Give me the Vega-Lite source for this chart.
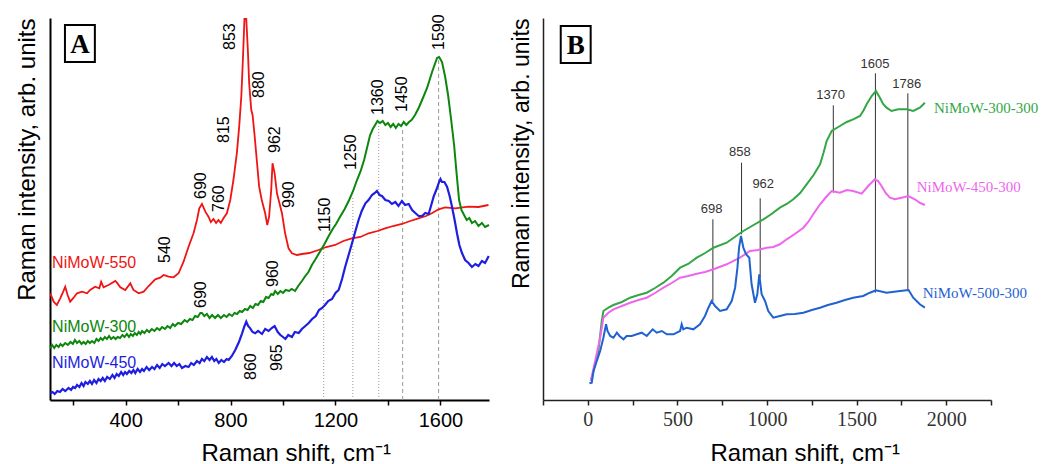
{
  "$schema": "https://vega.github.io/schema/vega-lite/v6.json",
  "autosize": {"type": "pad"},
  "padding": {"left": 14, "top": 14, "right": 0, "bottom": 0},
  "bounds": "flush",
  "spacing": 54,
  "resolve": {"scale": {"color": "independent", "strokeWidth": "independent"}},
  "config": {"view": {"stroke": null}, "background": "white"},
  "hconcat": [
    {
      "width": 439,
      "height": 382,
      "layer": [
        {
          "data": {"values": [
            {"x": 1155, "y": 0, "y2": 153, "d": "dot"},
            {"x": 1266, "y": 0, "y2": 203, "d": "dot"},
            {"x": 1365, "y": 0, "y2": 277, "d": "dot"},
            {"x": 1456, "y": 0, "y2": 270, "d": "dash"},
            {"x": 1593, "y": 0, "y2": 343, "d": "dash"}
          ]},
          "mark": {"type": "rule", "color": "#999999", "strokeWidth": 1},
          "encoding": {
            "x": {"field": "x", "type": "quantitative"},
            "y": {"field": "y", "type": "quantitative"},
            "y2": {"field": "y2"},
            "strokeDash": {"field": "d", "type": "nominal", "scale": {"domain": ["dot", "dash"], "range": [[1, 2], [4, 3]]}, "legend": null}
          }
        },
        {
          "data": {"values": [
            {"s": "NiMoW-550", "x": 113, "y": 106.7}, {"s": "NiMoW-550", "x": 126, "y": 98.3}, {"s": "NiMoW-550", "x": 138, "y": 95}, {"s": "NiMoW-550", "x": 151, "y": 101.7}, {"s": "NiMoW-550", "x": 164, "y": 109.3}, {"s": "NiMoW-550", "x": 170, "y": 113.3}, {"s": "NiMoW-550", "x": 179, "y": 105}, {"s": "NiMoW-550", "x": 189, "y": 98.3}, {"s": "NiMoW-550", "x": 202, "y": 102.3}, {"s": "NiMoW-550", "x": 215, "y": 106.7}, {"s": "NiMoW-550", "x": 234, "y": 108.3}, {"s": "NiMoW-550", "x": 253, "y": 106.7}, {"s": "NiMoW-550", "x": 265, "y": 110}, {"s": "NiMoW-550", "x": 284, "y": 113.3}, {"s": "NiMoW-550", "x": 300, "y": 111.7}, {"s": "NiMoW-550", "x": 307, "y": 118.3}, {"s": "NiMoW-550", "x": 316, "y": 112.7}, {"s": "NiMoW-550", "x": 335, "y": 115}, {"s": "NiMoW-550", "x": 361, "y": 119}, {"s": "NiMoW-550", "x": 367, "y": 117.3}, {"s": "NiMoW-550", "x": 380, "y": 112.7}, {"s": "NiMoW-550", "x": 399, "y": 110}, {"s": "NiMoW-550", "x": 418, "y": 116.7}, {"s": "NiMoW-550", "x": 430, "y": 110}, {"s": "NiMoW-550", "x": 450, "y": 106.7}, {"s": "NiMoW-550", "x": 469, "y": 108.3}, {"s": "NiMoW-550", "x": 488, "y": 114}, {"s": "NiMoW-550", "x": 513, "y": 120.7}, {"s": "NiMoW-550", "x": 532, "y": 122.3}, {"s": "NiMoW-550", "x": 545, "y": 125}, {"s": "NiMoW-550", "x": 564, "y": 123.3}, {"s": "NiMoW-550", "x": 583, "y": 122.7}, {"s": "NiMoW-550", "x": 602, "y": 126.7}, {"s": "NiMoW-550", "x": 621, "y": 138.3}, {"s": "NiMoW-550", "x": 640, "y": 153.3}, {"s": "NiMoW-550", "x": 659, "y": 166.7}, {"s": "NiMoW-550", "x": 672, "y": 180}, {"s": "NiMoW-550", "x": 681, "y": 191.7}, {"s": "NiMoW-550", "x": 691, "y": 196}, {"s": "NiMoW-550", "x": 704, "y": 188.3}, {"s": "NiMoW-550", "x": 716, "y": 183.3}, {"s": "NiMoW-550", "x": 725, "y": 178}, {"s": "NiMoW-550", "x": 735, "y": 181}, {"s": "NiMoW-550", "x": 745, "y": 177}, {"s": "NiMoW-550", "x": 754, "y": 180}, {"s": "NiMoW-550", "x": 763, "y": 177}, {"s": "NiMoW-550", "x": 773, "y": 181.7}, {"s": "NiMoW-550", "x": 786, "y": 186.7}, {"s": "NiMoW-550", "x": 799, "y": 200}, {"s": "NiMoW-550", "x": 811, "y": 220}, {"s": "NiMoW-550", "x": 824, "y": 246.7}, {"s": "NiMoW-550", "x": 833, "y": 273.3}, {"s": "NiMoW-550", "x": 841, "y": 303.3}, {"s": "NiMoW-550", "x": 846, "y": 333.3}, {"s": "NiMoW-550", "x": 850, "y": 360}, {"s": "NiMoW-550", "x": 853, "y": 381}, {"s": "NiMoW-550", "x": 860, "y": 381}, {"s": "NiMoW-550", "x": 866, "y": 350}, {"s": "NiMoW-550", "x": 871, "y": 316.7}, {"s": "NiMoW-550", "x": 879, "y": 290}, {"s": "NiMoW-550", "x": 884, "y": 285}, {"s": "NiMoW-550", "x": 891, "y": 266.7}, {"s": "NiMoW-550", "x": 900, "y": 240}, {"s": "NiMoW-550", "x": 909, "y": 213.3}, {"s": "NiMoW-550", "x": 919, "y": 200}, {"s": "NiMoW-550", "x": 932, "y": 186.7}, {"s": "NiMoW-550", "x": 940, "y": 175}, {"s": "NiMoW-550", "x": 947, "y": 183.3}, {"s": "NiMoW-550", "x": 955, "y": 210}, {"s": "NiMoW-550", "x": 960, "y": 236.7}, {"s": "NiMoW-550", "x": 968, "y": 226.7}, {"s": "NiMoW-550", "x": 977, "y": 206.7}, {"s": "NiMoW-550", "x": 985, "y": 198.3}, {"s": "NiMoW-550", "x": 996, "y": 186.7}, {"s": "NiMoW-550", "x": 1008, "y": 166.7}, {"s": "NiMoW-550", "x": 1021, "y": 151.7}, {"s": "NiMoW-550", "x": 1034, "y": 146.7}, {"s": "NiMoW-550", "x": 1053, "y": 145}, {"s": "NiMoW-550", "x": 1072, "y": 146}, {"s": "NiMoW-550", "x": 1100, "y": 147}, {"s": "NiMoW-550", "x": 1135, "y": 150}, {"s": "NiMoW-550", "x": 1165, "y": 153}, {"s": "NiMoW-550", "x": 1199, "y": 155}, {"s": "NiMoW-550", "x": 1230, "y": 159}, {"s": "NiMoW-550", "x": 1262, "y": 161.7}, {"s": "NiMoW-550", "x": 1295, "y": 163}, {"s": "NiMoW-550", "x": 1326, "y": 166.7}, {"s": "NiMoW-550", "x": 1360, "y": 169}, {"s": "NiMoW-550", "x": 1389, "y": 171.7}, {"s": "NiMoW-550", "x": 1420, "y": 174}, {"s": "NiMoW-550", "x": 1453, "y": 176}, {"s": "NiMoW-550", "x": 1485, "y": 179}, {"s": "NiMoW-550", "x": 1516, "y": 181.7}, {"s": "NiMoW-550", "x": 1545, "y": 184}, {"s": "NiMoW-550", "x": 1567, "y": 186.7}, {"s": "NiMoW-550", "x": 1593, "y": 190.7}, {"s": "NiMoW-550", "x": 1618, "y": 192.7}, {"s": "NiMoW-550", "x": 1656, "y": 191.7}, {"s": "NiMoW-550", "x": 1707, "y": 193.3}, {"s": "NiMoW-550", "x": 1745, "y": 193}, {"s": "NiMoW-550", "x": 1783, "y": 195},

            {"s": "NiMoW-300", "x": 113, "y": 51.7}, {"s": "NiMoW-300", "x": 120, "y": 55}, {"s": "NiMoW-300", "x": 128, "y": 52}, {"s": "NiMoW-300", "x": 136, "y": 55}, {"s": "NiMoW-300", "x": 145, "y": 53}, {"s": "NiMoW-300", "x": 152, "y": 56}, {"s": "NiMoW-300", "x": 160, "y": 54}, {"s": "NiMoW-300", "x": 170, "y": 57}, {"s": "NiMoW-300", "x": 180, "y": 55}, {"s": "NiMoW-300", "x": 190, "y": 58}, {"s": "NiMoW-300", "x": 199, "y": 56}, {"s": "NiMoW-300", "x": 207, "y": 60}, {"s": "NiMoW-300", "x": 215, "y": 57}, {"s": "NiMoW-300", "x": 224, "y": 59}, {"s": "NiMoW-300", "x": 232, "y": 56}, {"s": "NiMoW-300", "x": 240, "y": 58}, {"s": "NiMoW-300", "x": 248, "y": 56}, {"s": "NiMoW-300", "x": 256, "y": 59}, {"s": "NiMoW-300", "x": 264, "y": 57}, {"s": "NiMoW-300", "x": 272, "y": 59}, {"s": "NiMoW-300", "x": 281, "y": 57}, {"s": "NiMoW-300", "x": 289, "y": 61}, {"s": "NiMoW-300", "x": 297, "y": 59}, {"s": "NiMoW-300", "x": 305, "y": 62}, {"s": "NiMoW-300", "x": 313, "y": 60}, {"s": "NiMoW-300", "x": 321, "y": 63}, {"s": "NiMoW-300", "x": 329, "y": 61}, {"s": "NiMoW-300", "x": 337, "y": 64}, {"s": "NiMoW-300", "x": 345, "y": 61}, {"s": "NiMoW-300", "x": 354, "y": 63}, {"s": "NiMoW-300", "x": 362, "y": 61}, {"s": "NiMoW-300", "x": 370, "y": 63}, {"s": "NiMoW-300", "x": 379, "y": 62}, {"s": "NiMoW-300", "x": 388, "y": 65}, {"s": "NiMoW-300", "x": 396, "y": 63}, {"s": "NiMoW-300", "x": 405, "y": 66}, {"s": "NiMoW-300", "x": 413, "y": 63}, {"s": "NiMoW-300", "x": 420, "y": 66}, {"s": "NiMoW-300", "x": 428, "y": 64}, {"s": "NiMoW-300", "x": 435, "y": 67}, {"s": "NiMoW-300", "x": 443, "y": 65}, {"s": "NiMoW-300", "x": 450, "y": 68}, {"s": "NiMoW-300", "x": 457, "y": 66}, {"s": "NiMoW-300", "x": 463, "y": 69}, {"s": "NiMoW-300", "x": 472, "y": 67}, {"s": "NiMoW-300", "x": 481, "y": 70}, {"s": "NiMoW-300", "x": 490, "y": 68}, {"s": "NiMoW-300", "x": 500, "y": 71}, {"s": "NiMoW-300", "x": 510, "y": 69}, {"s": "NiMoW-300", "x": 520, "y": 72}, {"s": "NiMoW-300", "x": 530, "y": 70}, {"s": "NiMoW-300", "x": 539, "y": 73}, {"s": "NiMoW-300", "x": 550, "y": 71}, {"s": "NiMoW-300", "x": 560, "y": 74}, {"s": "NiMoW-300", "x": 570, "y": 72}, {"s": "NiMoW-300", "x": 580, "y": 76}, {"s": "NiMoW-300", "x": 588, "y": 74}, {"s": "NiMoW-300", "x": 600, "y": 77}, {"s": "NiMoW-300", "x": 612, "y": 76}, {"s": "NiMoW-300", "x": 625, "y": 80}, {"s": "NiMoW-300", "x": 635, "y": 78}, {"s": "NiMoW-300", "x": 645, "y": 81}, {"s": "NiMoW-300", "x": 655, "y": 80}, {"s": "NiMoW-300", "x": 665, "y": 84}, {"s": "NiMoW-300", "x": 675, "y": 83}, {"s": "NiMoW-300", "x": 685, "y": 87}, {"s": "NiMoW-300", "x": 691, "y": 87}, {"s": "NiMoW-300", "x": 700, "y": 84}, {"s": "NiMoW-300", "x": 710, "y": 86}, {"s": "NiMoW-300", "x": 720, "y": 82}, {"s": "NiMoW-300", "x": 730, "y": 85}, {"s": "NiMoW-300", "x": 741, "y": 82}, {"s": "NiMoW-300", "x": 752, "y": 85}, {"s": "NiMoW-300", "x": 763, "y": 82}, {"s": "NiMoW-300", "x": 775, "y": 85}, {"s": "NiMoW-300", "x": 785, "y": 83}, {"s": "NiMoW-300", "x": 795, "y": 86}, {"s": "NiMoW-300", "x": 806, "y": 84}, {"s": "NiMoW-300", "x": 815, "y": 87}, {"s": "NiMoW-300", "x": 825, "y": 86}, {"s": "NiMoW-300", "x": 835, "y": 89}, {"s": "NiMoW-300", "x": 844, "y": 88}, {"s": "NiMoW-300", "x": 855, "y": 91}, {"s": "NiMoW-300", "x": 865, "y": 90}, {"s": "NiMoW-300", "x": 875, "y": 94}, {"s": "NiMoW-300", "x": 885, "y": 92}, {"s": "NiMoW-300", "x": 895, "y": 96}, {"s": "NiMoW-300", "x": 905, "y": 95}, {"s": "NiMoW-300", "x": 915, "y": 99}, {"s": "NiMoW-300", "x": 925, "y": 98}, {"s": "NiMoW-300", "x": 935, "y": 103}, {"s": "NiMoW-300", "x": 945, "y": 102}, {"s": "NiMoW-300", "x": 955, "y": 106}, {"s": "NiMoW-300", "x": 963, "y": 105}, {"s": "NiMoW-300", "x": 970, "y": 109}, {"s": "NiMoW-300", "x": 980, "y": 106}, {"s": "NiMoW-300", "x": 990, "y": 109}, {"s": "NiMoW-300", "x": 1000, "y": 107}, {"s": "NiMoW-300", "x": 1010, "y": 110}, {"s": "NiMoW-300", "x": 1023, "y": 109}, {"s": "NiMoW-300", "x": 1033, "y": 111}, {"s": "NiMoW-300", "x": 1046, "y": 109}, {"s": "NiMoW-300", "x": 1058, "y": 114}, {"s": "NiMoW-300", "x": 1072, "y": 119}, {"s": "NiMoW-300", "x": 1085, "y": 124}, {"s": "NiMoW-300", "x": 1097, "y": 128}, {"s": "NiMoW-300", "x": 1110, "y": 135}, {"s": "NiMoW-300", "x": 1122, "y": 140}, {"s": "NiMoW-300", "x": 1140, "y": 148}, {"s": "NiMoW-300", "x": 1156, "y": 155}, {"s": "NiMoW-300", "x": 1172, "y": 163}, {"s": "NiMoW-300", "x": 1187, "y": 170}, {"s": "NiMoW-300", "x": 1202, "y": 176}, {"s": "NiMoW-300", "x": 1217, "y": 183}, {"s": "NiMoW-300", "x": 1235, "y": 191}, {"s": "NiMoW-300", "x": 1252, "y": 200}, {"s": "NiMoW-300", "x": 1267, "y": 209}, {"s": "NiMoW-300", "x": 1282, "y": 220}, {"s": "NiMoW-300", "x": 1296, "y": 229}, {"s": "NiMoW-300", "x": 1309, "y": 240}, {"s": "NiMoW-300", "x": 1320, "y": 252}, {"s": "NiMoW-300", "x": 1332, "y": 265}, {"s": "NiMoW-300", "x": 1342, "y": 271}, {"s": "NiMoW-300", "x": 1351, "y": 275}, {"s": "NiMoW-300", "x": 1360, "y": 279}, {"s": "NiMoW-300", "x": 1370, "y": 277}, {"s": "NiMoW-300", "x": 1380, "y": 279}, {"s": "NiMoW-300", "x": 1390, "y": 275}, {"s": "NiMoW-300", "x": 1400, "y": 277}, {"s": "NiMoW-300", "x": 1410, "y": 273}, {"s": "NiMoW-300", "x": 1420, "y": 276}, {"s": "NiMoW-300", "x": 1430, "y": 272}, {"s": "NiMoW-300", "x": 1440, "y": 276}, {"s": "NiMoW-300", "x": 1450, "y": 274}, {"s": "NiMoW-300", "x": 1460, "y": 278}, {"s": "NiMoW-300", "x": 1470, "y": 275}, {"s": "NiMoW-300", "x": 1480, "y": 278}, {"s": "NiMoW-300", "x": 1490, "y": 280}, {"s": "NiMoW-300", "x": 1503, "y": 285}, {"s": "NiMoW-300", "x": 1517, "y": 292}, {"s": "NiMoW-300", "x": 1530, "y": 300}, {"s": "NiMoW-300", "x": 1549, "y": 312}, {"s": "NiMoW-300", "x": 1568, "y": 328}, {"s": "NiMoW-300", "x": 1587, "y": 342}, {"s": "NiMoW-300", "x": 1595, "y": 343}, {"s": "NiMoW-300", "x": 1606, "y": 338}, {"s": "NiMoW-300", "x": 1618, "y": 323}, {"s": "NiMoW-300", "x": 1629, "y": 305}, {"s": "NiMoW-300", "x": 1640, "y": 282}, {"s": "NiMoW-300", "x": 1652, "y": 255}, {"s": "NiMoW-300", "x": 1661, "y": 228}, {"s": "NiMoW-300", "x": 1671, "y": 200}, {"s": "NiMoW-300", "x": 1680, "y": 190}, {"s": "NiMoW-300", "x": 1690, "y": 185}, {"s": "NiMoW-300", "x": 1700, "y": 180}, {"s": "NiMoW-300", "x": 1710, "y": 182}, {"s": "NiMoW-300", "x": 1720, "y": 177}, {"s": "NiMoW-300", "x": 1732, "y": 179}, {"s": "NiMoW-300", "x": 1745, "y": 174}, {"s": "NiMoW-300", "x": 1758, "y": 177}, {"s": "NiMoW-300", "x": 1770, "y": 173}, {"s": "NiMoW-300", "x": 1785, "y": 175},

            {"s": "NiMoW-450", "x": 113, "y": 6.7}, {"s": "NiMoW-450", "x": 122, "y": 8}, {"s": "NiMoW-450", "x": 130, "y": 6}, {"s": "NiMoW-450", "x": 140, "y": 9}, {"s": "NiMoW-450", "x": 150, "y": 8}, {"s": "NiMoW-450", "x": 160, "y": 11}, {"s": "NiMoW-450", "x": 170, "y": 9}, {"s": "NiMoW-450", "x": 183, "y": 12}, {"s": "NiMoW-450", "x": 192, "y": 10}, {"s": "NiMoW-450", "x": 200, "y": 13}, {"s": "NiMoW-450", "x": 208, "y": 12}, {"s": "NiMoW-450", "x": 215, "y": 15}, {"s": "NiMoW-450", "x": 224, "y": 13}, {"s": "NiMoW-450", "x": 232, "y": 17}, {"s": "NiMoW-450", "x": 240, "y": 14}, {"s": "NiMoW-450", "x": 247, "y": 18}, {"s": "NiMoW-450", "x": 256, "y": 16}, {"s": "NiMoW-450", "x": 264, "y": 19}, {"s": "NiMoW-450", "x": 272, "y": 16}, {"s": "NiMoW-450", "x": 280, "y": 20}, {"s": "NiMoW-450", "x": 289, "y": 17}, {"s": "NiMoW-450", "x": 297, "y": 21}, {"s": "NiMoW-450", "x": 305, "y": 19}, {"s": "NiMoW-450", "x": 313, "y": 22}, {"s": "NiMoW-450", "x": 321, "y": 19}, {"s": "NiMoW-450", "x": 330, "y": 23}, {"s": "NiMoW-450", "x": 340, "y": 21}, {"s": "NiMoW-450", "x": 350, "y": 25}, {"s": "NiMoW-450", "x": 358, "y": 22}, {"s": "NiMoW-450", "x": 366, "y": 26}, {"s": "NiMoW-450", "x": 374, "y": 24}, {"s": "NiMoW-450", "x": 383, "y": 28}, {"s": "NiMoW-450", "x": 391, "y": 25}, {"s": "NiMoW-450", "x": 398, "y": 28}, {"s": "NiMoW-450", "x": 405, "y": 26}, {"s": "NiMoW-450", "x": 414, "y": 29}, {"s": "NiMoW-450", "x": 422, "y": 27}, {"s": "NiMoW-450", "x": 430, "y": 30}, {"s": "NiMoW-450", "x": 437, "y": 27}, {"s": "NiMoW-450", "x": 446, "y": 31}, {"s": "NiMoW-450", "x": 455, "y": 28}, {"s": "NiMoW-450", "x": 463, "y": 31}, {"s": "NiMoW-450", "x": 470, "y": 29}, {"s": "NiMoW-450", "x": 480, "y": 33}, {"s": "NiMoW-450", "x": 490, "y": 30}, {"s": "NiMoW-450", "x": 501, "y": 33}, {"s": "NiMoW-450", "x": 510, "y": 31}, {"s": "NiMoW-450", "x": 520, "y": 35}, {"s": "NiMoW-450", "x": 530, "y": 32}, {"s": "NiMoW-450", "x": 540, "y": 36}, {"s": "NiMoW-450", "x": 550, "y": 34}, {"s": "NiMoW-450", "x": 564, "y": 37}, {"s": "NiMoW-450", "x": 575, "y": 34}, {"s": "NiMoW-450", "x": 585, "y": 37}, {"s": "NiMoW-450", "x": 595, "y": 34}, {"s": "NiMoW-450", "x": 605, "y": 36}, {"s": "NiMoW-450", "x": 615, "y": 32}, {"s": "NiMoW-450", "x": 628, "y": 34}, {"s": "NiMoW-450", "x": 640, "y": 33}, {"s": "NiMoW-450", "x": 650, "y": 37}, {"s": "NiMoW-450", "x": 660, "y": 35}, {"s": "NiMoW-450", "x": 672, "y": 39}, {"s": "NiMoW-450", "x": 682, "y": 37}, {"s": "NiMoW-450", "x": 691, "y": 41}, {"s": "NiMoW-450", "x": 700, "y": 39}, {"s": "NiMoW-450", "x": 710, "y": 43}, {"s": "NiMoW-450", "x": 720, "y": 40}, {"s": "NiMoW-450", "x": 729, "y": 43}, {"s": "NiMoW-450", "x": 738, "y": 39}, {"s": "NiMoW-450", "x": 746, "y": 41}, {"s": "NiMoW-450", "x": 755, "y": 37}, {"s": "NiMoW-450", "x": 765, "y": 40}, {"s": "NiMoW-450", "x": 775, "y": 38}, {"s": "NiMoW-450", "x": 785, "y": 41}, {"s": "NiMoW-450", "x": 793, "y": 40}, {"s": "NiMoW-450", "x": 805, "y": 44}, {"s": "NiMoW-450", "x": 818, "y": 50}, {"s": "NiMoW-450", "x": 832, "y": 58}, {"s": "NiMoW-450", "x": 844, "y": 66.7}, {"s": "NiMoW-450", "x": 852, "y": 73}, {"s": "NiMoW-450", "x": 860, "y": 78.3}, {"s": "NiMoW-450", "x": 867, "y": 74}, {"s": "NiMoW-450", "x": 875, "y": 71.7}, {"s": "NiMoW-450", "x": 884, "y": 68}, {"s": "NiMoW-450", "x": 894, "y": 66.7}, {"s": "NiMoW-450", "x": 905, "y": 69}, {"s": "NiMoW-450", "x": 920, "y": 66}, {"s": "NiMoW-450", "x": 932, "y": 71}, {"s": "NiMoW-450", "x": 945, "y": 69}, {"s": "NiMoW-450", "x": 957, "y": 72}, {"s": "NiMoW-450", "x": 968, "y": 74}, {"s": "NiMoW-450", "x": 980, "y": 68}, {"s": "NiMoW-450", "x": 990, "y": 65}, {"s": "NiMoW-450", "x": 1000, "y": 63}, {"s": "NiMoW-450", "x": 1009, "y": 61}, {"s": "NiMoW-450", "x": 1020, "y": 65}, {"s": "NiMoW-450", "x": 1034, "y": 63}, {"s": "NiMoW-450", "x": 1045, "y": 68}, {"s": "NiMoW-450", "x": 1060, "y": 67}, {"s": "NiMoW-450", "x": 1072, "y": 71}, {"s": "NiMoW-450", "x": 1085, "y": 74}, {"s": "NiMoW-450", "x": 1098, "y": 77}, {"s": "NiMoW-450", "x": 1111, "y": 81}, {"s": "NiMoW-450", "x": 1125, "y": 84}, {"s": "NiMoW-450", "x": 1137, "y": 90}, {"s": "NiMoW-450", "x": 1149, "y": 92}, {"s": "NiMoW-450", "x": 1160, "y": 95}, {"s": "NiMoW-450", "x": 1172, "y": 99}, {"s": "NiMoW-450", "x": 1187, "y": 101}, {"s": "NiMoW-450", "x": 1200, "y": 107}, {"s": "NiMoW-450", "x": 1212, "y": 110}, {"s": "NiMoW-450", "x": 1225, "y": 121}, {"s": "NiMoW-450", "x": 1237, "y": 133.3}, {"s": "NiMoW-450", "x": 1250, "y": 145}, {"s": "NiMoW-450", "x": 1263, "y": 156.7}, {"s": "NiMoW-450", "x": 1276, "y": 169}, {"s": "NiMoW-450", "x": 1288, "y": 180}, {"s": "NiMoW-450", "x": 1300, "y": 189}, {"s": "NiMoW-450", "x": 1314, "y": 196.7}, {"s": "NiMoW-450", "x": 1326, "y": 200}, {"s": "NiMoW-450", "x": 1339, "y": 205}, {"s": "NiMoW-450", "x": 1350, "y": 207}, {"s": "NiMoW-450", "x": 1358, "y": 209}, {"s": "NiMoW-450", "x": 1368, "y": 205}, {"s": "NiMoW-450", "x": 1377, "y": 204}, {"s": "NiMoW-450", "x": 1390, "y": 200}, {"s": "NiMoW-450", "x": 1403, "y": 199}, {"s": "NiMoW-450", "x": 1415, "y": 196}, {"s": "NiMoW-450", "x": 1428, "y": 198}, {"s": "NiMoW-450", "x": 1440, "y": 194}, {"s": "NiMoW-450", "x": 1453, "y": 199}, {"s": "NiMoW-450", "x": 1465, "y": 195}, {"s": "NiMoW-450", "x": 1479, "y": 196}, {"s": "NiMoW-450", "x": 1492, "y": 190}, {"s": "NiMoW-450", "x": 1504, "y": 187}, {"s": "NiMoW-450", "x": 1517, "y": 184}, {"s": "NiMoW-450", "x": 1530, "y": 184}, {"s": "NiMoW-450", "x": 1542, "y": 187}, {"s": "NiMoW-450", "x": 1555, "y": 186}, {"s": "NiMoW-450", "x": 1565, "y": 195}, {"s": "NiMoW-450", "x": 1574, "y": 203.3}, {"s": "NiMoW-450", "x": 1584, "y": 210}, {"s": "NiMoW-450", "x": 1593, "y": 216.7}, {"s": "NiMoW-450", "x": 1600, "y": 221}, {"s": "NiMoW-450", "x": 1606, "y": 218}, {"s": "NiMoW-450", "x": 1615, "y": 218}, {"s": "NiMoW-450", "x": 1625, "y": 213.3}, {"s": "NiMoW-450", "x": 1635, "y": 204}, {"s": "NiMoW-450", "x": 1644, "y": 193.3}, {"s": "NiMoW-450", "x": 1654, "y": 180}, {"s": "NiMoW-450", "x": 1663, "y": 166.7}, {"s": "NiMoW-450", "x": 1672, "y": 155}, {"s": "NiMoW-450", "x": 1682, "y": 147}, {"s": "NiMoW-450", "x": 1694, "y": 140}, {"s": "NiMoW-450", "x": 1707, "y": 137}, {"s": "NiMoW-450", "x": 1720, "y": 133}, {"s": "NiMoW-450", "x": 1733, "y": 136}, {"s": "NiMoW-450", "x": 1745, "y": 134}, {"s": "NiMoW-450", "x": 1758, "y": 139}, {"s": "NiMoW-450", "x": 1770, "y": 137}, {"s": "NiMoW-450", "x": 1784, "y": 144}
          ]},
          "mark": {"type": "line", "interpolate": "linear"},
          "encoding": {
            "x": {"field": "x", "type": "quantitative", "scale": {"domain": [112, 1785], "nice": false, "zero": false},
              "axis": {"values": [200, 400, 600, 800, 1000, 1200, 1400, 1600], "format": "d", "labelExpr": "datum.value % 400 == 0 ? datum.label : ''",
                "grid": false, "tickSize": 5, "tickColor": "black", "tickWidth": 1.5, "domainColor": "black", "domainWidth": 2,
                "labelFont": "Liberation Sans", "labelFontSize": 20, "labelColor": "black", "labelPadding": 5,
                "title": "Raman shift, cm⁻¹", "titleFont": "Liberation Sans", "titleFontSize": 24, "titleFontWeight": "normal", "titleColor": "black",
                "titleAlign": "left", "titleX": 151, "titleY": 60, "titleBaseline": "alphabetic"}},
            "y": {"field": "y", "type": "quantitative", "scale": {"domain": [0, 382], "nice": false, "zero": false},
              "axis": {"labels": false, "ticks": false, "grid": false, "domainColor": "black", "domainWidth": 2,
                "title": "Raman intensity, arb. units", "titleFont": "Liberation Sans", "titleFontSize": 24, "titleFontWeight": "normal", "titleColor": "black",
                "titleAnchor": "end", "titlePadding": 11}},
            "color": {"field": "s", "type": "nominal", "scale": {"domain": ["NiMoW-550", "NiMoW-300", "NiMoW-450"], "range": ["#f01414", "#0c860c", "#1e1ee0"]}, "legend": null},
            "strokeWidth": {"field": "s", "type": "nominal", "scale": {"domain": ["NiMoW-550", "NiMoW-300", "NiMoW-450"], "range": [1.8, 2.2, 1.1]}, "legend": null}
          }
        },
        {
          "data": {"values": [
            {"t": "853", "x": 799, "y": 350}, {"t": "880", "x": 907, "y": 302}, {"t": "815", "x": 774, "y": 257},
            {"t": "962", "x": 971, "y": 247}, {"t": "690", "x": 688, "y": 201}, {"t": "760", "x": 755, "y": 188},
            {"t": "990", "x": 1022, "y": 192}, {"t": "1150", "x": 1159, "y": 168}, {"t": "1250", "x": 1260, "y": 230},
            {"t": "1360", "x": 1362, "y": 285}, {"t": "1450", "x": 1454, "y": 288}, {"t": "1590", "x": 1596, "y": 350},
            {"t": "540", "x": 549, "y": 137}, {"t": "960", "x": 961, "y": 113}, {"t": "690", "x": 688, "y": 92},
            {"t": "860", "x": 879, "y": 20}, {"t": "965", "x": 977, "y": 29}
          ]},
          "mark": {"type": "text", "angle": 270, "align": "left", "baseline": "middle", "font": "Liberation Sans", "fontSize": 16, "color": "black"},
          "encoding": {
            "x": {"field": "x", "type": "quantitative"},
            "y": {"field": "y", "type": "quantitative"},
            "text": {"field": "t"}
          }
        },
        {
          "data": {"values": [
            {"s": "NiMoW-550", "x": 120, "y": 137},
            {"s": "NiMoW-300", "x": 120, "y": 73},
            {"s": "NiMoW-450", "x": 120, "y": 37}
          ]},
          "mark": {"type": "text", "align": "left", "baseline": "middle", "font": "Liberation Sans", "fontSize": 16},
          "encoding": {
            "x": {"field": "x", "type": "quantitative"},
            "y": {"field": "y", "type": "quantitative"},
            "text": {"field": "s"},
            "color": {"field": "s", "type": "nominal", "legend": null}
          }
        },
        {
          "data": {"values": [{"x": 169, "x2": 283, "y": 338, "y2": 375}]},
          "mark": {"type": "rect", "fill": "white", "stroke": "black", "strokeWidth": 2},
          "encoding": {
            "x": {"field": "x", "type": "quantitative"},
            "x2": {"field": "x2"},
            "y": {"field": "y", "type": "quantitative"},
            "y2": {"field": "y2"}
          }
        },
        {
          "data": {"values": [{"t": "A", "x": 226, "y": 356}]},
          "mark": {"type": "text", "align": "center", "baseline": "middle", "font": "Liberation Serif", "fontWeight": "bold", "fontSize": 27, "color": "black", "dy": 1},
          "encoding": {
            "x": {"field": "x", "type": "quantitative"},
            "y": {"field": "y", "type": "quantitative"},
            "text": {"field": "t"}
          }
        }
      ]
    },
    {
      "width": 448,
      "height": 382,
      "layer": [
        {
          "data": {"values": [
            {"x": 698, "y": 99, "y2": 180.7}, {"x": 858, "y": 165.7, "y2": 237.3}, {"x": 962, "y": 122.3, "y2": 201.7},
            {"x": 1370, "y": 207.3, "y2": 294.7}, {"x": 1605, "y": 107.3, "y2": 326.7}, {"x": 1786, "y": 109, "y2": 306.7}
          ]},
          "mark": {"type": "rule", "color": "#333333", "strokeWidth": 1},
          "encoding": {
            "x": {"field": "x", "type": "quantitative"},
            "y": {"field": "y", "type": "quantitative"},
            "y2": {"field": "y2"}
          }
        },
        {
          "data": {"values": [
            {"s": "NiMoW-300-300", "x": 17, "y": 19}, {"s": "NiMoW-300-300", "x": 32, "y": 29}, {"s": "NiMoW-300-300", "x": 59, "y": 49}, {"s": "NiMoW-300-300", "x": 78, "y": 79}, {"s": "NiMoW-300-300", "x": 87, "y": 89}, {"s": "NiMoW-300-300", "x": 115, "y": 92.3}, {"s": "NiMoW-300-300", "x": 143, "y": 95}, {"s": "NiMoW-300-300", "x": 190, "y": 98}, {"s": "NiMoW-300-300", "x": 236, "y": 102.3}, {"s": "NiMoW-300-300", "x": 283, "y": 105}, {"s": "NiMoW-300-300", "x": 329, "y": 107.3}, {"s": "NiMoW-300-300", "x": 375, "y": 112}, {"s": "NiMoW-300-300", "x": 422, "y": 117.3}, {"s": "NiMoW-300-300", "x": 468, "y": 124}, {"s": "NiMoW-300-300", "x": 515, "y": 132.3}, {"s": "NiMoW-300-300", "x": 560, "y": 136}, {"s": "NiMoW-300-300", "x": 608, "y": 142.3}, {"s": "NiMoW-300-300", "x": 655, "y": 147}, {"s": "NiMoW-300-300", "x": 701, "y": 152.3}, {"s": "NiMoW-300-300", "x": 775, "y": 157.3}, {"s": "NiMoW-300-300", "x": 820, "y": 163}, {"s": "NiMoW-300-300", "x": 868, "y": 169}, {"s": "NiMoW-300-300", "x": 925, "y": 175}, {"s": "NiMoW-300-300", "x": 980, "y": 180.7}, {"s": "NiMoW-300-300", "x": 1025, "y": 186}, {"s": "NiMoW-300-300", "x": 1072, "y": 192.3}, {"s": "NiMoW-300-300", "x": 1110, "y": 196}, {"s": "NiMoW-300-300", "x": 1147, "y": 200.7}, {"s": "NiMoW-300-300", "x": 1185, "y": 207}, {"s": "NiMoW-300-300", "x": 1221, "y": 215.7}, {"s": "NiMoW-300-300", "x": 1260, "y": 225}, {"s": "NiMoW-300-300", "x": 1296, "y": 235.7}, {"s": "NiMoW-300-300", "x": 1315, "y": 247}, {"s": "NiMoW-300-300", "x": 1333, "y": 259}, {"s": "NiMoW-300-300", "x": 1361, "y": 269}, {"s": "NiMoW-300-300", "x": 1407, "y": 274}, {"s": "NiMoW-300-300", "x": 1445, "y": 278}, {"s": "NiMoW-300-300", "x": 1481, "y": 280.7}, {"s": "NiMoW-300-300", "x": 1519, "y": 284}, {"s": "NiMoW-300-300", "x": 1540, "y": 290}, {"s": "NiMoW-300-300", "x": 1556, "y": 295.7}, {"s": "NiMoW-300-300", "x": 1584, "y": 304}, {"s": "NiMoW-300-300", "x": 1608, "y": 309}, {"s": "NiMoW-300-300", "x": 1630, "y": 302.3}, {"s": "NiMoW-300-300", "x": 1648, "y": 296}, {"s": "NiMoW-300-300", "x": 1667, "y": 292.3}, {"s": "NiMoW-300-300", "x": 1695, "y": 289}, {"s": "NiMoW-300-300", "x": 1732, "y": 290.7}, {"s": "NiMoW-300-300", "x": 1779, "y": 290.7}, {"s": "NiMoW-300-300", "x": 1816, "y": 289}, {"s": "NiMoW-300-300", "x": 1853, "y": 292.3}, {"s": "NiMoW-300-300", "x": 1881, "y": 297.3},

            {"s": "NiMoW-450-300", "x": 17, "y": 19}, {"s": "NiMoW-450-300", "x": 41, "y": 39}, {"s": "NiMoW-450-300", "x": 69, "y": 62.3}, {"s": "NiMoW-450-300", "x": 87, "y": 82.3}, {"s": "NiMoW-450-300", "x": 115, "y": 87.3}, {"s": "NiMoW-450-300", "x": 143, "y": 90.7}, {"s": "NiMoW-450-300", "x": 190, "y": 94}, {"s": "NiMoW-450-300", "x": 236, "y": 97.3}, {"s": "NiMoW-450-300", "x": 283, "y": 100}, {"s": "NiMoW-450-300", "x": 329, "y": 102.3}, {"s": "NiMoW-450-300", "x": 375, "y": 107}, {"s": "NiMoW-450-300", "x": 422, "y": 112.3}, {"s": "NiMoW-450-300", "x": 468, "y": 117}, {"s": "NiMoW-450-300", "x": 515, "y": 122.3}, {"s": "NiMoW-450-300", "x": 560, "y": 124}, {"s": "NiMoW-450-300", "x": 608, "y": 126.3}, {"s": "NiMoW-450-300", "x": 655, "y": 128}, {"s": "NiMoW-450-300", "x": 701, "y": 130.7}, {"s": "NiMoW-450-300", "x": 775, "y": 135.7}, {"s": "NiMoW-450-300", "x": 849, "y": 142.3}, {"s": "NiMoW-450-300", "x": 905, "y": 149}, {"s": "NiMoW-450-300", "x": 950, "y": 150}, {"s": "NiMoW-450-300", "x": 998, "y": 152.3}, {"s": "NiMoW-450-300", "x": 1035, "y": 153}, {"s": "NiMoW-450-300", "x": 1072, "y": 155.7}, {"s": "NiMoW-450-300", "x": 1110, "y": 160.7}, {"s": "NiMoW-450-300", "x": 1155, "y": 166}, {"s": "NiMoW-450-300", "x": 1203, "y": 172.3}, {"s": "NiMoW-450-300", "x": 1230, "y": 178}, {"s": "NiMoW-450-300", "x": 1258, "y": 185.7}, {"s": "NiMoW-450-300", "x": 1296, "y": 195.7}, {"s": "NiMoW-450-300", "x": 1330, "y": 203}, {"s": "NiMoW-450-300", "x": 1361, "y": 209}, {"s": "NiMoW-450-300", "x": 1407, "y": 207.3}, {"s": "NiMoW-450-300", "x": 1445, "y": 210}, {"s": "NiMoW-450-300", "x": 1481, "y": 209}, {"s": "NiMoW-450-300", "x": 1528, "y": 206.3}, {"s": "NiMoW-450-300", "x": 1565, "y": 214}, {"s": "NiMoW-450-300", "x": 1602, "y": 220.7}, {"s": "NiMoW-450-300", "x": 1620, "y": 219}, {"s": "NiMoW-450-300", "x": 1639, "y": 214}, {"s": "NiMoW-450-300", "x": 1662, "y": 207}, {"s": "NiMoW-450-300", "x": 1686, "y": 202.3}, {"s": "NiMoW-450-300", "x": 1714, "y": 200.7}, {"s": "NiMoW-450-300", "x": 1751, "y": 202.3}, {"s": "NiMoW-450-300", "x": 1788, "y": 204}, {"s": "NiMoW-450-300", "x": 1825, "y": 200.7}, {"s": "NiMoW-450-300", "x": 1855, "y": 197}, {"s": "NiMoW-450-300", "x": 1881, "y": 195},

            {"s": "NiMoW-500-300", "x": 9, "y": 16.7}, {"s": "NiMoW-500-300", "x": 22, "y": 17.3}, {"s": "NiMoW-500-300", "x": 32, "y": 29}, {"s": "NiMoW-500-300", "x": 50, "y": 39}, {"s": "NiMoW-500-300", "x": 69, "y": 49}, {"s": "NiMoW-500-300", "x": 87, "y": 62.3}, {"s": "NiMoW-500-300", "x": 102, "y": 75.7}, {"s": "NiMoW-500-300", "x": 110, "y": 69}, {"s": "NiMoW-500-300", "x": 125, "y": 64}, {"s": "NiMoW-500-300", "x": 143, "y": 62.3}, {"s": "NiMoW-500-300", "x": 162, "y": 67.3}, {"s": "NiMoW-500-300", "x": 177, "y": 64}, {"s": "NiMoW-500-300", "x": 199, "y": 60.7}, {"s": "NiMoW-500-300", "x": 217, "y": 64}, {"s": "NiMoW-500-300", "x": 245, "y": 64}, {"s": "NiMoW-500-300", "x": 273, "y": 65.7}, {"s": "NiMoW-500-300", "x": 301, "y": 67.3}, {"s": "NiMoW-500-300", "x": 329, "y": 64}, {"s": "NiMoW-500-300", "x": 362, "y": 70.7}, {"s": "NiMoW-500-300", "x": 385, "y": 67.3}, {"s": "NiMoW-500-300", "x": 413, "y": 69}, {"s": "NiMoW-500-300", "x": 441, "y": 65.7}, {"s": "NiMoW-500-300", "x": 478, "y": 65.7}, {"s": "NiMoW-500-300", "x": 515, "y": 69}, {"s": "NiMoW-500-300", "x": 524, "y": 75.7}, {"s": "NiMoW-500-300", "x": 533, "y": 70.7}, {"s": "NiMoW-500-300", "x": 552, "y": 72.3}, {"s": "NiMoW-500-300", "x": 589, "y": 70.7}, {"s": "NiMoW-500-300", "x": 626, "y": 75.7}, {"s": "NiMoW-500-300", "x": 654, "y": 84}, {"s": "NiMoW-500-300", "x": 673, "y": 92.3}, {"s": "NiMoW-500-300", "x": 691, "y": 99}, {"s": "NiMoW-500-300", "x": 710, "y": 94}, {"s": "NiMoW-500-300", "x": 738, "y": 89}, {"s": "NiMoW-500-300", "x": 775, "y": 90.7}, {"s": "NiMoW-500-300", "x": 803, "y": 99}, {"s": "NiMoW-500-300", "x": 822, "y": 112.3}, {"s": "NiMoW-500-300", "x": 835, "y": 132.3}, {"s": "NiMoW-500-300", "x": 844, "y": 152.3}, {"s": "NiMoW-500-300", "x": 855, "y": 164}, {"s": "NiMoW-500-300", "x": 868, "y": 152.3}, {"s": "NiMoW-500-300", "x": 883, "y": 145.7}, {"s": "NiMoW-500-300", "x": 901, "y": 142.3}, {"s": "NiMoW-500-300", "x": 914, "y": 115.7}, {"s": "NiMoW-500-300", "x": 933, "y": 97.3}, {"s": "NiMoW-500-300", "x": 946, "y": 105.7}, {"s": "NiMoW-500-300", "x": 957, "y": 125.7}, {"s": "NiMoW-500-300", "x": 970, "y": 105.7}, {"s": "NiMoW-500-300", "x": 989, "y": 99}, {"s": "NiMoW-500-300", "x": 1007, "y": 89}, {"s": "NiMoW-500-300", "x": 1035, "y": 82.3}, {"s": "NiMoW-500-300", "x": 1072, "y": 84}, {"s": "NiMoW-500-300", "x": 1110, "y": 85.7}, {"s": "NiMoW-500-300", "x": 1155, "y": 86}, {"s": "NiMoW-500-300", "x": 1203, "y": 87.3}, {"s": "NiMoW-500-300", "x": 1250, "y": 90}, {"s": "NiMoW-500-300", "x": 1296, "y": 92.3}, {"s": "NiMoW-500-300", "x": 1340, "y": 95}, {"s": "NiMoW-500-300", "x": 1388, "y": 97.3}, {"s": "NiMoW-500-300", "x": 1435, "y": 100}, {"s": "NiMoW-500-300", "x": 1481, "y": 102.3}, {"s": "NiMoW-500-300", "x": 1537, "y": 104}, {"s": "NiMoW-500-300", "x": 1574, "y": 107.3}, {"s": "NiMoW-500-300", "x": 1608, "y": 109.7}, {"s": "NiMoW-500-300", "x": 1667, "y": 107.3}, {"s": "NiMoW-500-300", "x": 1742, "y": 109}, {"s": "NiMoW-500-300", "x": 1790, "y": 110}, {"s": "NiMoW-500-300", "x": 1816, "y": 102.3}, {"s": "NiMoW-500-300", "x": 1853, "y": 95.7}, {"s": "NiMoW-500-300", "x": 1881, "y": 92.3}
          ]},
          "mark": {"type": "line", "strokeWidth": 2},
          "encoding": {
            "x": {"field": "x", "type": "quantitative", "scale": {"domain": [-250, 2250], "nice": false, "zero": false},
              "axis": {"values": [-250, 0, 250, 500, 750, 1000, 1250, 1500, 1750, 2000, 2250], "format": "d", "labelExpr": "datum.value % 500 == 0 ? datum.label : ''",
                "grid": false, "tickSize": 5, "tickColor": "#222222", "tickWidth": 1.5, "domainColor": "#222222", "domainWidth": 1.5,
                "labelFont": "Liberation Serif", "labelFontSize": 20, "labelColor": "#333333", "labelPadding": 4,
                "title": "Raman shift, cm⁻¹", "titleFont": "Liberation Sans", "titleFontSize": 24, "titleFontWeight": "normal", "titleColor": "black",
                "titleAlign": "left", "titleX": 167, "titleY": 60, "titleBaseline": "alphabetic"}},
            "y": {"field": "y", "type": "quantitative", "scale": {"domain": [0, 382], "nice": false, "zero": false},
              "axis": {"labels": false, "ticks": false, "grid": false, "domainColor": "#222222", "domainWidth": 1.5,
                "title": "Raman intensity, arb. units", "titleFont": "Liberation Sans", "titleFontSize": 23, "titleFontWeight": "normal", "titleColor": "black",
                "titleAnchor": "end", "titlePadding": 10}},
            "color": {"field": "s", "type": "nominal", "scale": {"domain": ["NiMoW-300-300", "NiMoW-450-300", "NiMoW-500-300"], "range": ["#33a645", "#ee66ee", "#1f62d0"]}, "legend": null}
          }
        },
        {
          "data": {"values": [
            {"t": "698", "x": 691, "y": 191}, {"t": "858", "x": 849, "y": 248}, {"t": "962", "x": 979, "y": 216},
            {"t": "1370", "x": 1355, "y": 305}, {"t": "1605", "x": 1603, "y": 336.3}, {"t": "1786", "x": 1780, "y": 316.3}
          ]},
          "mark": {"type": "text", "align": "center", "baseline": "middle", "font": "Liberation Sans", "fontSize": 13, "color": "#333333"},
          "encoding": {
            "x": {"field": "x", "type": "quantitative"},
            "y": {"field": "y", "type": "quantitative"},
            "text": {"field": "t"}
          }
        },
        {
          "data": {"values": [
            {"s": "NiMoW-300-300", "x": 1932, "y": 292},
            {"s": "NiMoW-450-300", "x": 1835, "y": 213.3},
            {"s": "NiMoW-500-300", "x": 1869, "y": 107}
          ]},
          "mark": {"type": "text", "align": "left", "baseline": "middle", "font": "Liberation Serif", "fontSize": 15},
          "encoding": {
            "x": {"field": "x", "type": "quantitative"},
            "y": {"field": "y", "type": "quantitative"},
            "text": {"field": "s"},
            "color": {"field": "s", "type": "nominal", "legend": null}
          }
        },
        {
          "data": {"values": [{"x": -151, "x2": 16, "y": 337, "y2": 374}]},
          "mark": {"type": "rect", "fill": "white", "stroke": "black", "strokeWidth": 2},
          "encoding": {
            "x": {"field": "x", "type": "quantitative"},
            "x2": {"field": "x2"},
            "y": {"field": "y", "type": "quantitative"},
            "y2": {"field": "y2"}
          }
        },
        {
          "data": {"values": [{"t": "B", "x": -67, "y": 355}]},
          "mark": {"type": "text", "align": "center", "baseline": "middle", "font": "Liberation Serif", "fontWeight": "bold", "fontSize": 27, "color": "black", "dy": 1},
          "encoding": {
            "x": {"field": "x", "type": "quantitative"},
            "y": {"field": "y", "type": "quantitative"},
            "text": {"field": "t"}
          }
        }
      ]
    }
  ]
}
